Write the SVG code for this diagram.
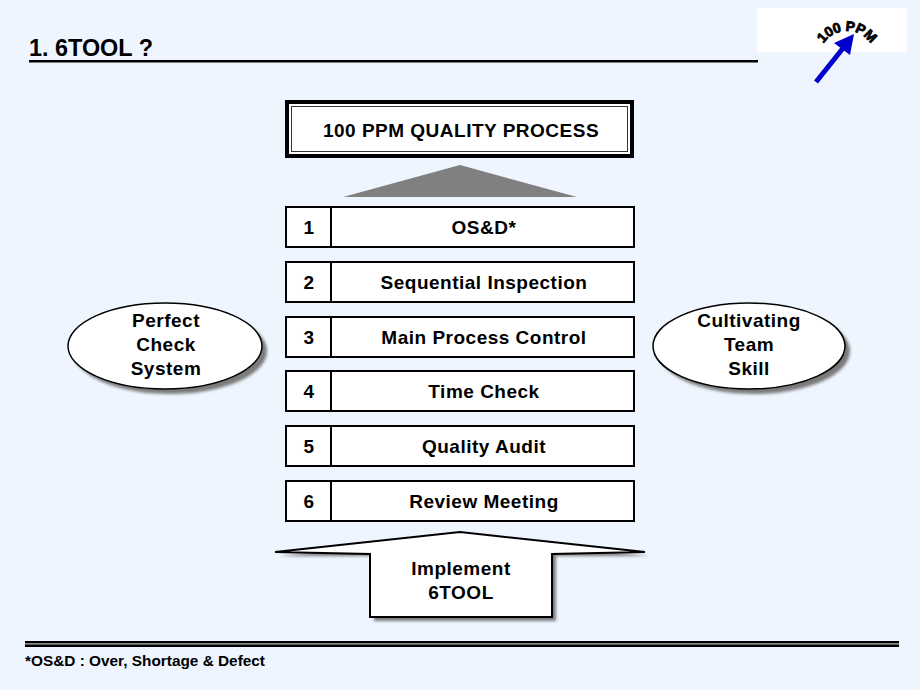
<svg xmlns="http://www.w3.org/2000/svg" width="920" height="690" viewBox="0 0 920 690">
<defs>
<style>
.t{font-family:"Liberation Sans",Arial,sans-serif;font-weight:bold;fill:#000}
.c{text-anchor:middle;font-size:19px;letter-spacing:0.5px}
.row{fill:#fff;stroke:#000;stroke-width:2}
.ell{fill:#fff;stroke:#000;stroke-width:1.5}
.sh{fill:#7a7a7a;filter:url(#blur)}
</style>
<filter id="blur" x="-10%" y="-10%" width="120%" height="120%"><feGaussianBlur stdDeviation="1.5"/></filter>
<path id="arc" d="M 819,59 A 28 28 0 0 1 875,59"/>
</defs>
<rect width="920" height="690" fill="#EEF5FF"/>

<g id="title">
<text class="t" x="29" y="56" font-size="24" textLength="124" lengthAdjust="spacingAndGlyphs">1. 6TOOL ?</text>
<rect x="29" y="60" width="729" height="2.5" fill="#000"/>
</g>

<g id="logo">
<rect x="757" y="8" width="150" height="44" fill="#fff"/>
<text class="t" font-size="14" stroke="#000" stroke-width="0.8" letter-spacing="-0.3"><textPath href="#arc" startOffset="50%" text-anchor="middle">100 PPM</textPath></text>
<line x1="816" y1="82" x2="844" y2="47" stroke="#0000CC" stroke-width="5"/>
<polygon points="854,34 850,55 834,43" fill="#0000CC"/>
</g>

<g id="quality-process">
<rect x="287" y="102" width="345" height="54" fill="#fff" stroke="#000" stroke-width="4"/>
<rect x="291.5" y="106.5" width="336" height="45" fill="none" stroke="#333" stroke-width="1"/>
<text class="t c" x="461" y="137">100 PPM QUALITY PROCESS</text>
</g>

<g id="connectors">
<polygon id="up-triangle" points="460,165 577,197 343,197" fill="#808080"/>
</g>

<g id="row1">
<rect class="row" x="286" y="207" width="348" height="40"/>
<line x1="331" y1="207" x2="331" y2="247" stroke="#000" stroke-width="2"/>
<text class="t c" x="309" y="234">1</text>
<text class="t c" x="484" y="234">OS&amp;D*</text>
</g>
<g id="row2">
<rect class="row" x="286" y="262" width="348" height="40"/>
<line x1="331" y1="262" x2="331" y2="302" stroke="#000" stroke-width="2"/>
<text class="t c" x="309" y="289">2</text>
<text class="t c" x="484" y="289">Sequential Inspection</text>
</g>
<g id="row3">
<rect class="row" x="286" y="317" width="348" height="40"/>
<line x1="331" y1="317" x2="331" y2="357" stroke="#000" stroke-width="2"/>
<text class="t c" x="309" y="344">3</text>
<text class="t c" x="484" y="344">Main Process Control</text>
</g>
<g id="row4">
<rect class="row" x="286" y="371" width="348" height="40"/>
<line x1="331" y1="371" x2="331" y2="411" stroke="#000" stroke-width="2"/>
<text class="t c" x="309" y="398">4</text>
<text class="t c" x="484" y="398">Time Check</text>
</g>
<g id="row5">
<rect class="row" x="286" y="426" width="348" height="40"/>
<line x1="331" y1="426" x2="331" y2="466" stroke="#000" stroke-width="2"/>
<text class="t c" x="309" y="453">5</text>
<text class="t c" x="484" y="453">Quality Audit</text>
</g>
<g id="row6">
<rect class="row" x="286" y="481" width="348" height="40"/>
<line x1="331" y1="481" x2="331" y2="521" stroke="#000" stroke-width="2"/>
<text class="t c" x="309" y="508">6</text>
<text class="t c" x="484" y="508">Review Meeting</text>
</g>

<g id="perfect-check">
<ellipse class="sh" cx="170" cy="351" rx="97" ry="43"/>
<ellipse class="ell" cx="165" cy="346" rx="97" ry="43"/>
<text class="t c" x="166" y="327">Perfect</text>
<text class="t c" x="166" y="351">Check</text>
<text class="t c" x="166" y="375">System</text>
</g>

<g id="cultivating">
<ellipse class="sh" cx="754" cy="351" rx="96" ry="43"/>
<ellipse class="ell" cx="749" cy="346" rx="96" ry="43"/>
<text class="t c" x="749" y="327">Cultivating</text>
<text class="t c" x="749" y="351">Team</text>
<text class="t c" x="749" y="375">Skill</text>
</g>

<g id="implement">
<polygon class="sh" points="279,556 464,536 649,556 556,556 556,621 374,621 374,556"/>
<polygon points="275,552 460,532 645,552 552,554 552,617 370,617 370,554" fill="#fff" stroke="#000" stroke-width="2" stroke-linejoin="miter"/>
<text class="t c" x="461" y="575">Implement</text>
<text class="t c" x="461" y="599">6TOOL</text>
</g>

<g id="footer">
<rect x="25" y="641" width="874" height="2" fill="#000"/>
<rect x="25" y="643" width="874" height="1.5" fill="#888"/>
<rect x="25" y="644.5" width="874" height="2.5" fill="#000"/>
<text class="t" x="25" y="666" font-size="15.5" textLength="240" lengthAdjust="spacingAndGlyphs">*OS&amp;D : Over, Shortage &amp; Defect</text>
</g>
</svg>
